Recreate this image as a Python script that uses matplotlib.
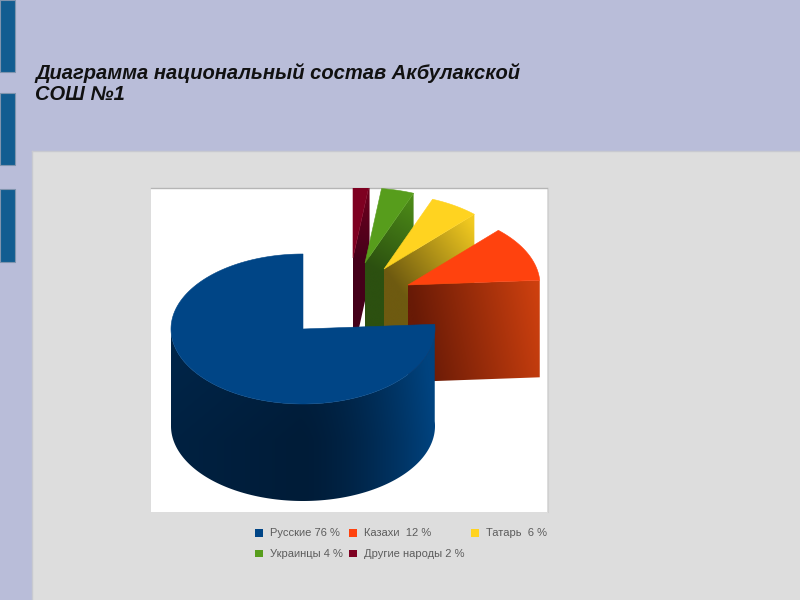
import numpy as np
import matplotlib
matplotlib.use("Agg")
import matplotlib.pyplot as plt
from matplotlib.colors import to_rgb
from matplotlib.patches import Patch, Polygon, Rectangle

# --- data -----------------------------------------------------------------
categories = ["Русские", "Казахи ", "Татарь ", "Украинцы", "Другие народы"]
shares = [76, 12, 6, 4, 2]
slice_colors = ["#004586", "#ff420e", "#ffd320", "#579d1c", "#7e0021"]
title_lines = ["Диаграмма национальный состав Акбулакской", "СОШ №1"]

# --- geometry / style -----------------------------------------------------
RX, RY, DEPTH = 132, 75, 97
centers = [(303, 329), (408, 285), (384, 269), (365, 263), (353, 258)]
# dark / light ends of the shaded faces
face_dark = ["#001c38", "#681a06", "#6e5a10", "#2c5010", "#45001a"]
face_light = ["#00437f", "#d0410f", "#f2ca20", "#4c8a18", "#6e001e"]

fig = plt.figure(figsize=(8, 6), dpi=100, facecolor="#b9bdd9")
bg = fig.add_axes([0, 0, 1, 1])
bg.set_xlim(0, 800)
bg.set_ylim(600, 0)
bg.axis("off")
bg.add_patch(Rectangle((32, 151), 768, 449, fc="#dddddd", ec="none"))
bg.plot([32, 800], [151, 151], color="#c8c9d0", lw=1)
bg.plot([32, 32], [151, 600], color="#c8c9d0", lw=1)
for y0, h in [(0, 72), (93, 72), (189, 73)]:
    bg.add_patch(Rectangle((0, y0), 15, h, fc="#125d91", ec="#7f94ae", lw=0.8))
bg.add_patch(Rectangle((151, 188), 396, 324, fc="white", ec="none"))
bg.plot([151, 547], [188, 188], color="#b5b5b5", lw=1)
bg.plot([547.5, 547.5], [188, 512], color="#d0d0d0", lw=0.8)

bg.text(35, 73, title_lines[0], fontfamily="Liberation Sans", fontweight="bold",
        fontstyle="italic", fontsize=14.5, color="#111111", va="center", ha="left")
bg.text(35, 94.5, title_lines[1], fontfamily="Liberation Sans", fontweight="bold",
        fontstyle="italic", fontsize=14.5, color="#111111", va="center", ha="left")

ax = fig.add_axes([151 / 800, 1 - 512 / 600, 396 / 800, 324 / 600])
ax.axis("off")


def arc(center, a0, a1, n=240):
    t = np.radians(np.linspace(a0, a1, n))
    return np.column_stack([center[0] + RX * np.cos(t), center[1] - RY * np.sin(t)])


def shaded(verts, dark, light, profile, z):
    """Fill polygon verts with a colour field t=profile(x, y) between dark and light."""
    verts = np.asarray(verts)
    x0, y0 = verts.min(axis=0)
    x1, y1 = verts.max(axis=0)
    xx, yy = np.meshgrid(np.linspace(x0, x1, 300), np.linspace(y0, y1, 300))
    t = np.clip(profile(xx, yy), 0, 1)[..., None]
    img = np.array(to_rgb(dark)) * (1 - t) + np.array(to_rgb(light)) * t
    im = ax.imshow(img, extent=(x0, x1, y1, y0), aspect="auto", zorder=z,
                   interpolation="bilinear")
    clip = Polygon(verts, closed=True, transform=ax.transData, fc="none", ec="none")
    ax.add_patch(clip)
    im.set_clip_path(clip)


# cumulative angles, counter-clockwise from 12 o'clock
edges = 90 + np.concatenate([[0], np.cumsum(shares)]) * 360 / sum(shares)
starts = edges[:-1]
stops = edges[1:]


def profile_for(i, c):
    if i == 0:  # blue wall: darkest in front, lighter to the right
        return lambda x, y: (np.clip(x - 300, 0, None) / 135) ** 1.6 * 1.0 \
            + np.clip(300 - x, 0, None) / 128 * 0.13 + np.clip(440 - y, 0, None) / 100 * 0.12
    p = np.array([RX * np.cos(np.radians(starts[i])), -RY * np.sin(np.radians(starts[i]))])
    L2 = (p ** 2).sum()
    return lambda x, y: ((x - c[0]) * p[0] + (y - c[1]) * p[1]) / L2 - (y - c[1]) / DEPTH * 0.12


# back to front: smallest slices first, large blue slice last
z = 2.0
for i in reversed(range(len(shares))):
    c = centers[i]
    if i == 0:
        top = arc(c, 180, stops[0])
        wall = np.vstack([top, (top + [0, DEPTH])[::-1]])
    else:
        rim = arc(c, starts[i], starts[i], 2)[0]
        wall = np.array([c, rim, rim + [0, DEPTH], np.array(c) + [0, DEPTH]])
    shaded(wall, face_dark[i], face_light[i], profile_for(i, c), z)
    face = np.vstack([[c], arc(c, starts[i], stops[i])])
    ax.fill(face[:, 0], face[:, 1], color=slice_colors[i], lw=0.4, zorder=z + 0.1)
    z += 1

ax.set_xlim(151, 547)
ax.set_ylim(512, 188)

labels = [f"{c} {v} %" for c, v in zip(categories, shares)]
handles = [Patch(fc=col, ec="none", label=lab) for col, lab in zip(slice_colors, labels)]
order = [0, 3, 1, 4, 2]
fig.legend(handles=[handles[k] for k in order], ncols=3, frameon=False,
           loc="upper left", bbox_to_anchor=(255 / 800, 1 - 528.5 / 600),
           prop={"family": "Liberation Sans", "size": 8.0}, labelcolor="#5c5c5c",
           handlelength=0.72, handleheight=0.72, handletextpad=0.6,
           columnspacing=0.6, labelspacing=0.98, borderpad=0, borderaxespad=0)

fig.savefig("out.png", dpi=100, facecolor=fig.get_facecolor())
